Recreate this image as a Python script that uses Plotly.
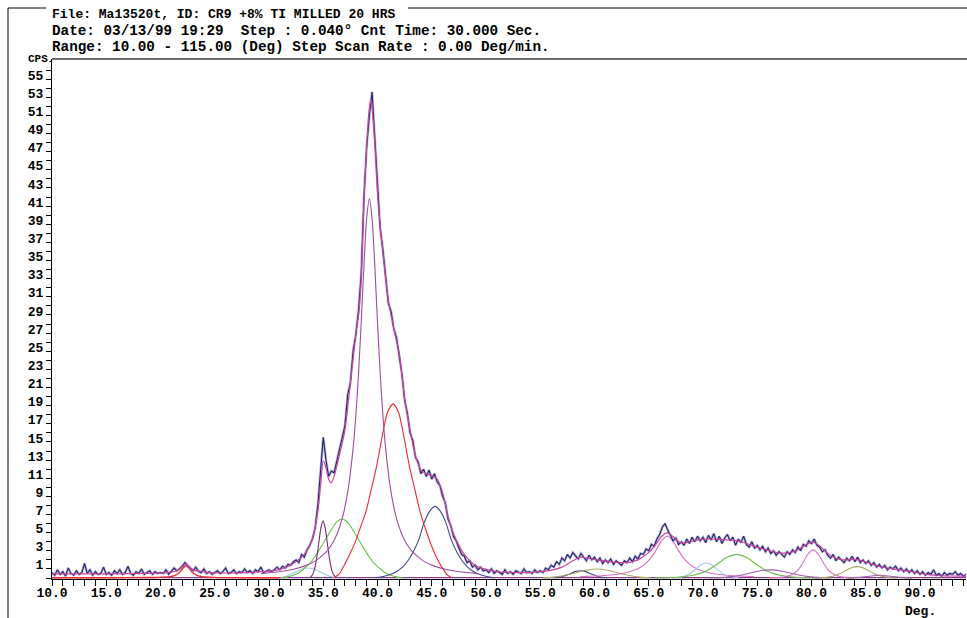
import plotly.graph_objects as go

# ---------------- data ----------------
# measured counts (CPS), sampled every 0.25 deg starting at 10.0 deg
meas_start = 10.0
meas_step = 0.25
meas_cps = [
    0.6, 0.3, 0.9, 0.4, 0.7, 0.2, 1.1, 0.5, 0.3, 0.8, 0.4, 0.6, 1.6, 0.5, 0.9, 0.3, 0.7, 0.4, 0.5, 1.2,
    0.4, 0.6, 0.3, 0.8, 0.5, 0.9, 0.4, 0.6, 1.3, 0.5, 0.3, 0.7, 0.5, 1.0, 0.4, 0.6, 0.8, 0.4, 0.7, 0.5,
    0.6, 0.5, 0.9, 0.4, 0.7, 1.1, 0.8, 1.0, 1.3, 1.7, 1.4, 1.1, 0.8, 1.2, 0.7, 0.6, 1.0, 0.5, 0.7, 0.4,
    0.6, 0.8, 0.5, 0.7, 1.1, 0.5, 0.6, 0.9, 0.5, 0.7, 0.6, 1.0, 0.6, 0.8, 0.5, 0.9, 0.7, 1.2, 0.6, 0.8,
    0.9, 0.7, 1.0, 1.2, 0.9, 1.3, 1.1, 1.5, 1.4, 1.8, 2.0, 1.7, 2.6, 2.3, 3.1, 3.6, 4.3, 5.5, 8.0, 11.5,
    15.5, 13.0, 11.2, 11.8, 11.6, 12.9, 14.2, 15.3, 16.8, 20.2, 21.5, 25.0, 26.8, 29.5, 33.5, 42.0, 47.5, 51.0, 53.6, 48.5,
    43.0, 38.5, 36.2, 33.2, 30.3, 29.4, 27.5, 26.5, 24.3, 22.5, 19.6, 18.2, 16.0, 15.2, 13.3, 12.8, 11.5, 12.0, 11.2, 11.9,
    10.9, 11.5, 10.6, 10.2, 9.0, 8.3, 6.5, 5.8, 4.6, 4.1, 3.3, 2.6, 2.4, 1.7, 1.9, 1.2, 1.4, 0.9, 1.2, 0.8,
    0.9, 0.6, 1.0, 0.5, 0.8, 0.6, 0.4, 0.9, 0.5, 0.7, 0.4, 0.8, 0.6, 0.5, 1.0, 0.6, 0.7, 0.5, 0.9, 0.6,
    0.8, 0.6, 1.1, 0.9, 1.4, 1.2, 1.8, 1.5, 2.2, 1.9, 2.6, 2.2, 2.8, 2.4, 2.1, 2.7, 2.3, 1.9, 2.5, 2.0,
    2.3, 1.8, 2.2, 1.6, 2.0, 1.7, 2.1, 1.5, 1.9, 1.6, 1.4, 1.9, 1.7, 2.2, 1.8, 2.4, 2.1, 2.7, 2.6, 3.2,
    3.0, 3.7, 3.5, 4.3, 4.8, 5.6, 6.0, 5.3, 4.7, 4.1, 4.4, 3.7, 4.0, 3.6, 4.3, 3.8, 4.5, 4.0, 4.6, 4.1,
    4.5, 3.9, 4.7, 4.2, 4.9, 4.0, 4.6, 3.8, 4.4, 4.8, 4.1, 4.5, 3.6, 4.3, 3.9, 4.6, 3.7, 3.4, 4.0, 3.3,
    3.6, 3.1, 3.5, 2.9, 3.3, 2.7, 3.0, 2.5, 2.9, 2.6, 2.3, 2.9, 2.6, 3.1, 2.8, 3.4, 3.0, 3.7, 3.5, 4.1,
    3.8, 4.3, 3.6, 3.4, 2.9, 3.1, 2.5, 2.2, 2.6, 1.9, 2.3, 2.0, 1.7, 2.2, 1.9, 2.4, 1.8, 2.3, 1.7, 2.0,
    1.6, 1.9, 1.4, 1.7, 1.2, 1.5, 1.1, 1.4, 0.9, 1.2, 1.0, 1.3, 0.8, 1.1, 0.7, 1.0, 0.6, 0.9, 0.5, 0.8,
    0.4, 0.7, 0.3, 0.6, 0.4, 0.9, 0.3, 0.5, 0.2, 0.6, 0.3, 0.5, 0.4, 0.7, 0.3, 0.5, 0.2, 0.4,
]
meas_deg = [round(meas_start + i * meas_step, 2) for i in range(len(meas_cps))]

# fitted envelope (sum profile)
fit_deg = [10, 12, 14, 16, 18, 20, 21, 21.5, 22, 22.3, 22.6, 23, 23.5, 24.5, 26, 28, 30, 31, 32, 33,
           33.5, 34, 34.5, 34.8, 35.0, 35.2, 35.5, 35.75, 36, 36.5, 37, 37.5, 38, 38.3, 38.5, 38.75,
           39, 39.2, 39.4, 39.6, 39.8, 40, 40.25, 40.5, 41, 41.5, 42, 42.5, 43, 43.5, 44, 44.5, 45,
           45.5, 46, 46.5, 47, 47.5, 48, 49, 50, 51, 52.5, 54, 55.5, 57, 58, 58.7, 59.5, 60.2, 61.2,
           62.3, 63.3, 64, 65, 65.7, 66.2, 66.7, 67.2, 67.9, 68.5, 69.5, 70.5, 71.5, 72.5, 73.5, 74.5,
           75.3, 76.2, 77.1, 78, 78.7, 79.4, 80.1, 80.8, 81.4, 82.3, 83.2, 84, 84.8, 86, 87.5, 89.3,
           90.6, 92, 94.3]
fit_cps = [0.45, 0.45, 0.45, 0.45, 0.5, 0.55, 0.65, 0.8, 1.2, 1.55, 1.25, 0.9, 0.75, 0.6, 0.55, 0.6, 0.75, 0.95, 1.4, 2.3,
           3.0, 4.3, 7.3, 10.8, 12.9, 12.4, 10.9, 10.5, 11.2, 13.6, 16.3, 21.5, 26.8, 29.5, 33.0, 41.5,
           47.5, 51.2, 52.8, 50.5, 47.0, 42.5, 38.8, 35.8, 30.6, 27.5, 24.8, 19.8, 16.3, 13.5, 11.9, 11.5, 11.3,
           10.9, 9.4, 6.8, 4.9, 3.6, 2.6, 1.4, 0.95, 0.7, 0.6, 0.6, 0.75, 1.2, 1.9, 2.3, 2.15, 2.0, 1.85,
           1.7, 1.75, 2.0, 2.8, 3.8, 4.6, 5.0, 4.6, 3.9, 3.9, 4.2, 4.3, 4.25, 4.2, 4.0, 3.6,
           3.3, 3.0, 2.75, 2.8, 3.1, 3.6, 3.95, 3.5, 2.8, 2.15, 2.0, 2.05, 1.85, 1.35, 1.0, 0.7,
           0.4, 0.25, 0.2]

# fitted component peaks
main_deg = [29.25, 31.25, 32.25, 33.25, 34.25, 35.25, 35.75, 36.25, 36.75, 37.25, 37.75, 38.0, 38.25, 38.5, 38.75,
            39.0, 39.25, 39.5, 39.75, 40.0, 40.25, 40.5, 40.75, 41.25, 41.75, 42.25, 42.75, 43.25, 44.25, 45.25,
            46.25, 47.25, 49.25]
main_cps = [0.48, 0.75, 0.97, 1.31, 1.86, 2.84, 3.63, 4.80, 6.57, 9.44, 14.27, 17.86, 22.51, 28.2, 34.42,
            39.67, 41.8, 39.67, 34.42, 28.2, 22.51, 17.86, 14.27, 9.44, 6.57, 4.80, 3.63, 2.84, 1.86, 1.31,
            0.97, 0.75, 0.48]

red_deg = [36.0, 36.43, 36.93, 37.43, 37.93, 38.43, 38.93, 39.43, 39.93, 40.43, 40.93, 41.43, 41.93, 42.43,
           42.93, 43.43, 43.93, 44.43, 44.93, 45.43, 45.93, 46.43, 46.8]
red_cps = [0.05, 0.4, 1.4, 2.6, 3.9, 5.6, 7.3, 9.8, 12.4, 15.6, 18.3, 19.2, 18.3, 15.6,
           12.4, 9.8, 7.3, 5.4, 3.7, 2.3, 1.2, 0.35, 0.05]

green_deg = [31.23, 31.73, 32.23, 32.73, 33.23, 33.73, 34.23, 34.73, 35.23, 35.73, 36.23, 36.73, 37.23, 37.73,
             38.23, 38.73, 39.23, 39.73, 40.23, 40.73, 41.23, 41.73, 42.23]
green_cps = [0.02, 0.12, 0.3, 0.55, 1.05, 1.55, 2.35, 3.3, 4.3, 5.3, 6.15, 6.5, 6.15, 5.3,
             4.3, 3.3, 2.35, 1.55, 1.05, 0.55, 0.3, 0.12, 0.02]

narrow_deg = [33.78, 33.98, 34.18, 34.38, 34.58, 34.78, 34.98, 35.18, 35.38, 35.58, 35.78, 35.98, 36.18]
narrow_cps = [0.05, 0.3, 0.9, 2.1, 3.8, 5.5, 6.3, 5.5, 3.8, 2.1, 0.9, 0.3, 0.05]

navy_deg = [39.8, 40.3, 40.8, 41.3, 41.8, 42.3, 42.8, 43.3, 43.8, 44.3, 44.8, 45.3, 45.8, 46.3, 46.8, 47.3,
            47.8, 48.3, 48.8, 49.3, 49.8, 50.3, 50.8]
navy_cps = [0.02, 0.1, 0.25, 0.45, 0.75, 1.2, 1.9, 2.9, 4.2, 6.1, 7.35, 7.9, 7.35, 6.1, 4.2, 2.9,
            1.9, 1.2, 0.75, 0.45, 0.25, 0.1, 0.02]

ltblue_deg = [31.1, 31.6, 32.1, 32.6, 33.1, 33.6, 34.1, 34.6, 35.1, 35.6, 36.1]
ltblue_cps = [0.05, 0.2, 0.45, 0.75, 1.0, 1.1, 1.0, 0.75, 0.45, 0.2, 0.05]

small_red_deg = [10.0, 15.0, 19.0, 19.85, 20.85, 21.35, 21.75, 21.95, 22.15, 22.35, 22.55, 22.75, 22.95,
                 23.35, 23.85, 24.85, 26.0, 31.0]
small_red_cps = [0.03, 0.03, 0.05, 0.07, 0.15, 0.3, 0.6, 0.9, 1.2, 1.35, 1.2, 0.9, 0.6,
                 0.3, 0.15, 0.07, 0.04, 0.03]

p587_deg = [56.2, 56.7, 57.2, 57.7, 58.2, 58.7, 59.2, 59.7, 60.2, 60.7, 61.2]
p587_cps = [0.02, 0.08, 0.22, 0.45, 0.7, 0.8, 0.7, 0.45, 0.22, 0.08, 0.02]

p602_deg = [55.2, 56.2, 57.2, 58.2, 59.2, 60.2, 61.2, 62.2, 63.2, 64.2, 65.2]
p602_cps = [0.03, 0.1, 0.28, 0.55, 0.85, 1.0, 0.85, 0.55, 0.28, 0.1, 0.03]

p667_deg = [58.7, 60.7, 61.7, 62.7, 63.7, 64.2, 64.7, 65.2, 65.7, 66.2, 66.7, 67.2, 67.7, 68.2, 68.7, 69.2,
            69.7, 70.7, 71.7, 72.7, 74.7]
p667_cps = [0.15, 0.25, 0.36, 0.53, 0.87, 1.16, 1.59, 2.22, 3.12, 4.11, 4.6, 4.11, 3.12, 2.22, 1.59, 1.16,
            0.87, 0.53, 0.36, 0.25, 0.15]

p703_deg = [67.3, 67.8, 68.3, 68.8, 69.3, 69.8, 70.3, 70.8, 71.3, 71.8, 72.3, 72.8, 73.3]
p703_cps = [0.02, 0.08, 0.22, 0.5, 0.95, 1.45, 1.65, 1.45, 0.95, 0.5, 0.22, 0.08, 0.02]

p731_deg = [65.6, 67.1, 68.1, 69.1, 70.1, 71.1, 72.1, 73.1, 74.1, 75.1, 76.1, 77.1, 78.1, 79.1, 80.6]
p731_cps = [0.01, 0.05, 0.13, 0.3, 0.65, 1.35, 2.2, 2.6, 2.2, 1.35, 0.65, 0.3, 0.13, 0.05, 0.01]

p762_deg = [70.7, 71.2, 72.2, 73.2, 74.2, 75.2, 76.2, 77.2, 78.2, 79.2, 80.2, 81.2, 81.7]
p762_cps = [0.01, 0.03, 0.1, 0.25, 0.5, 0.78, 0.9, 0.78, 0.5, 0.25, 0.1, 0.03, 0.01]

p802_deg = [76.15, 77.15, 77.65, 78.15, 78.65, 79.15, 79.65, 80.15, 80.65, 81.15, 81.65, 82.15, 82.65, 83.15, 84.15]
p802_cps = [0.02, 0.07, 0.15, 0.35, 0.75, 1.55, 2.6, 3.1, 2.6, 1.55, 0.75, 0.35, 0.15, 0.07, 0.02]

p842_deg = [80.7, 81.2, 81.7, 82.2, 82.7, 83.2, 83.7, 84.2, 84.7, 85.2, 85.7, 86.2, 86.7, 87.2, 87.7]
p842_cps = [0.01, 0.05, 0.13, 0.28, 0.52, 0.85, 1.13, 1.25, 1.13, 0.85, 0.52, 0.28, 0.13, 0.05, 0.01]

p863_deg = [83.3, 84.3, 85.3, 86.3, 87.3, 88.3, 89.3]
p863_cps = [0.01, 0.07, 0.2, 0.3, 0.2, 0.07, 0.01]

base_deg = [10.0, 94.3]
base_cps = [0.05, 0.05]

x_tick_vals = [10, 15, 20, 25, 30, 35, 40, 45, 50, 55, 60, 65, 70, 75, 80, 85, 90]
x_tick_text = ["10.0", "15.0", "20.0", "25.0", "30.0", "35.0", "40.0", "45.0", "50.0",
               "55.0", "60.0", "65.0", "70.0", "75.0", "80.0", "85.0", "90.0"]
y_tick_vals = list(range(1, 56, 2))

header_lines = [
    "File: Ma13520t, ID: CR9 +8% TI MILLED 20 HRS",
    "Date: 03/13/99 19:29  Step : 0.040\u00b0 Cnt Time: 30.000 Sec.",
    "Range: 10.00 - 115.00 (Deg) Step Scan Rate : 0.00 Deg/min.",
]

# ---------------- figure ----------------
MONO = "Liberation Mono"
fig = go.Figure()


def add_curve(x, y, color, width=1.1):
    fig.add_trace(go.Scatter(x=x, y=y, mode="lines",
                             line=dict(color=color, width=width, shape="spline", smoothing=0.7),
                             hoverinfo="skip", showlegend=False))


add_curve(base_deg, base_cps, "#8E3C96", 1.2)
add_curve(small_red_deg, small_red_cps, "#EE2A2A", 1.4)
add_curve(ltblue_deg, ltblue_cps, "#9CC6EE")
add_curve(green_deg, green_cps, "#6CC04A")
add_curve(narrow_deg, narrow_cps, "#7A2878")
add_curve(red_deg, red_cps, "#EE2A2A")
add_curve(navy_deg, navy_cps, "#45458F")
add_curve(main_deg, main_cps, "#9A4CA2")
add_curve(p587_deg, p587_cps, "#45458F")
add_curve(p602_deg, p602_cps, "#A8A860")
add_curve(p667_deg, p667_cps, "#D66FC2")
add_curve(p703_deg, p703_cps, "#9CC6EE")
add_curve(p731_deg, p731_cps, "#6CC04A")
add_curve(p762_deg, p762_cps, "#A05AA8")
add_curve(p802_deg, p802_cps, "#D66FC2")
add_curve(p842_deg, p842_cps, "#A8A860")
add_curve(p863_deg, p863_cps, "#A05AA8")

# measured pattern
fig.add_trace(go.Scatter(x=meas_deg, y=meas_cps, mode="lines",
                         line=dict(color="rgba(130,130,190,0.55)", width=2.6),
                         hoverinfo="skip", showlegend=False))
fig.add_trace(go.Scatter(x=meas_deg, y=meas_cps, mode="lines",
                         line=dict(color="#24226C", width=1.1),
                         hoverinfo="skip", showlegend=False))
# fitted envelope
add_curve(fit_deg, fit_cps, "#C8449E", 1.2)

# geometry helpers (plot area: x 52..966 px, y 59..579 px)
PL, PW, PB, PH = 52.0, 914.0, 579.0, 520.0


def px(x):
    return (x - PL) / PW


def py(y):
    return (PB - y) / PH


fig.update_layout(
    width=967, height=618,
    margin=dict(l=52, r=1, t=59, b=39, pad=0, autoexpand=False),
    paper_bgcolor="white", plot_bgcolor="white",
    showlegend=False,
    xaxis=dict(range=[10, 94.24], showgrid=False, zeroline=False,
               showline=True, linecolor="black", linewidth=1,
               tickmode="array", tickvals=x_tick_vals, ticktext=x_tick_text,
               ticks="outside", ticklen=6, tickcolor="black", tickwidth=1,
               ticklabelstandoff=-5,
               tickfont=dict(family=MONO, size=13, color="black", weight="bold"),
               minor=dict(tickmode="linear", tick0=10, dtick=1, ticks="outside",
                          ticklen=6, tickcolor="black", showgrid=False)),
    yaxis=dict(range=[-0.11, 57.22], showgrid=False, zeroline=False,
               showline=True, linecolor="black", linewidth=1,
               tickmode="array", tickvals=y_tick_vals,
               ticks="outside", ticklen=5, tickcolor="black", tickwidth=1,
               ticklabelshift=-4,
               tickfont=dict(family=MONO, size=13, color="black", weight="bold"),
               minor=dict(tickmode="linear", tick0=0, dtick=1, ticks="outside",
                          ticklen=5, tickcolor="black", showgrid=False)),
)

# frame lines
fig.add_shape(type="line", xref="paper", yref="paper", x0=px(8), x1=px(8), y0=py(8), y1=py(618),
              line=dict(color="black", width=1))
fig.add_shape(type="line", xref="paper", yref="paper", x0=px(8), x1=px(46), y0=py(8), y1=py(8),
              line=dict(color="black", width=1))
fig.add_shape(type="line", xref="paper", yref="paper", x0=px(408), x1=px(967), y0=py(8), y1=py(8),
              line=dict(color="black", width=1))
fig.add_shape(type="line", xref="paper", yref="paper", x0=px(52), x1=px(967), y0=py(59), y1=py(59),
              line=dict(color="#6E6E6E", width=2))

# header text
header_y = [14, 31, 47]
header_size = [13, 14.3, 14.3]
for line, yy, sz in zip(header_lines, header_y, header_size):
    fig.add_annotation(text="<b>" + line + "</b>", xref="paper", yref="paper",
                       x=px(50), y=py(yy), xanchor="left", yanchor="middle", showarrow=False,
                       font=dict(family=MONO, size=sz, color="black"))

fig.add_annotation(text="<b>CPS</b>", xref="paper", yref="paper", x=px(38), y=py(59),
                   xanchor="center", yanchor="middle", showarrow=False,
                   font=dict(family=MONO, size=11, color="black"), bgcolor="white")
fig.add_annotation(text="<b>Deg.</b>", xref="paper", yref="paper", x=px(920), y=py(611),
                   xanchor="center", yanchor="middle", showarrow=False,
                   font=dict(family=MONO, size=13, color="black"))

fig.write_html("out.html", config={"displayModeBar": False},
               post_script="document.body.style.margin='0px';document.body.style.overflow='hidden';")
